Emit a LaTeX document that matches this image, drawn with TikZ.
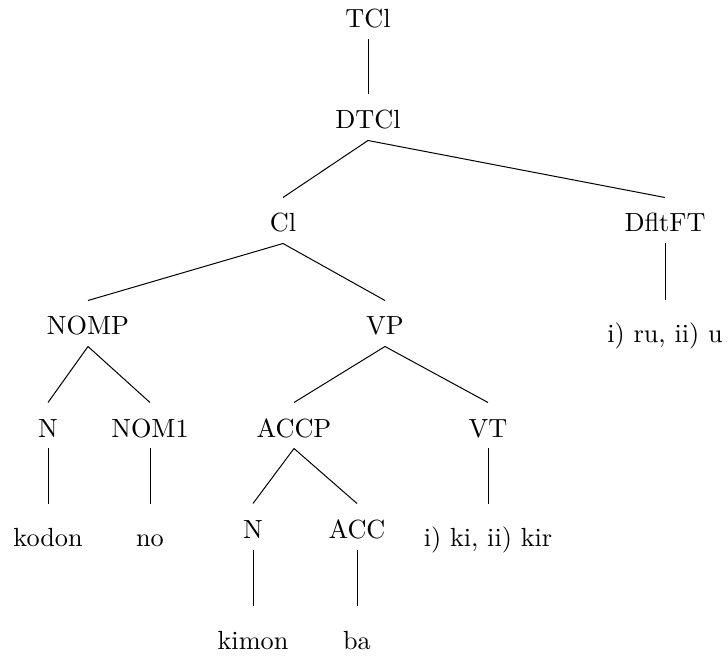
\documentclass[tikz,border=0pt]{standalone}
\begin{document}
\begin{tikzpicture}[x=0.4pt,y=-0.4pt,
  label font/.style={font=\fontsize{10.5pt}{12.6pt}\selectfont},
  cat/.style={label font, anchor=base, inner xsep=0pt, inner ysep=4.4pt, text height=9.2pt, text depth=0pt},
  word/.style={label font, anchor=base, inner xsep=0pt, inner ysep=4.4pt, text height=12.4pt, text depth=0pt},
  branch/.style={draw, line width=0.4pt}]
\useasboundingbox (0,0) rectangle (728,659);

% category nodes
\node[cat] (tcl)   at (368,28)  {TCl};
\node[cat] (dtcl)  at (368,129) {DTCl};
\node[cat] (cl)    at (283,232) {Cl};
\node[cat] (dflt)  at (665,232) {DfltFT};
\node[cat] (nomp)  at (88,335)  {NOMP};
\node[cat] (vp)    at (385,335) {VP};
\node[cat] (n1)    at (48,437)  {N};
\node[cat] (nom1)  at (150,437) {NOM1};
\node[cat] (accp)  at (294,437) {ACCP};
\node[cat] (vt)    at (488,437) {VT};
\node[cat] (n2)    at (253,538) {N};
\node[cat] (acc)   at (357,538) {ACC};

% terminal words
\node[word] (ru)    at (665,343) {i) ru, ii) u};
\node[word] (kodon) at (48,547)  {kodon};
\node[word] (no)    at (150,547) {no};
\node[word] (ki)    at (488,547) {i) ki, ii) kir};
\node[word] (kimon) at (253,649) {kimon};
\node[word] (ba)    at (357,649) {ba};

% branches
\draw[branch] (tcl.south)  -- (dtcl.north);
\draw[branch] (dtcl.south) -- (cl.north);
\draw[branch] (dtcl.south) -- (dflt.north);
\draw[branch] (cl.south)   -- (nomp.north);
\draw[branch] (cl.south)   -- (vp.north);
\draw[branch] (dflt.south) -- (ru.north);
\draw[branch] (nomp.south) -- (n1.north);
\draw[branch] (nomp.south) -- (nom1.north);
\draw[branch] (vp.south)   -- (accp.north);
\draw[branch] (vp.south)   -- (vt.north);
\draw[branch] (n1.south)   -- (kodon.north);
\draw[branch] (nom1.south) -- (no.north);
\draw[branch] (accp.south) -- (n2.north);
\draw[branch] (accp.south) -- (acc.north);
\draw[branch] (vt.south)   -- (ki.north);
\draw[branch] (n2.south)   -- (kimon.north);
\draw[branch] (acc.south)  -- (ba.north);
\end{tikzpicture}
\end{document}
